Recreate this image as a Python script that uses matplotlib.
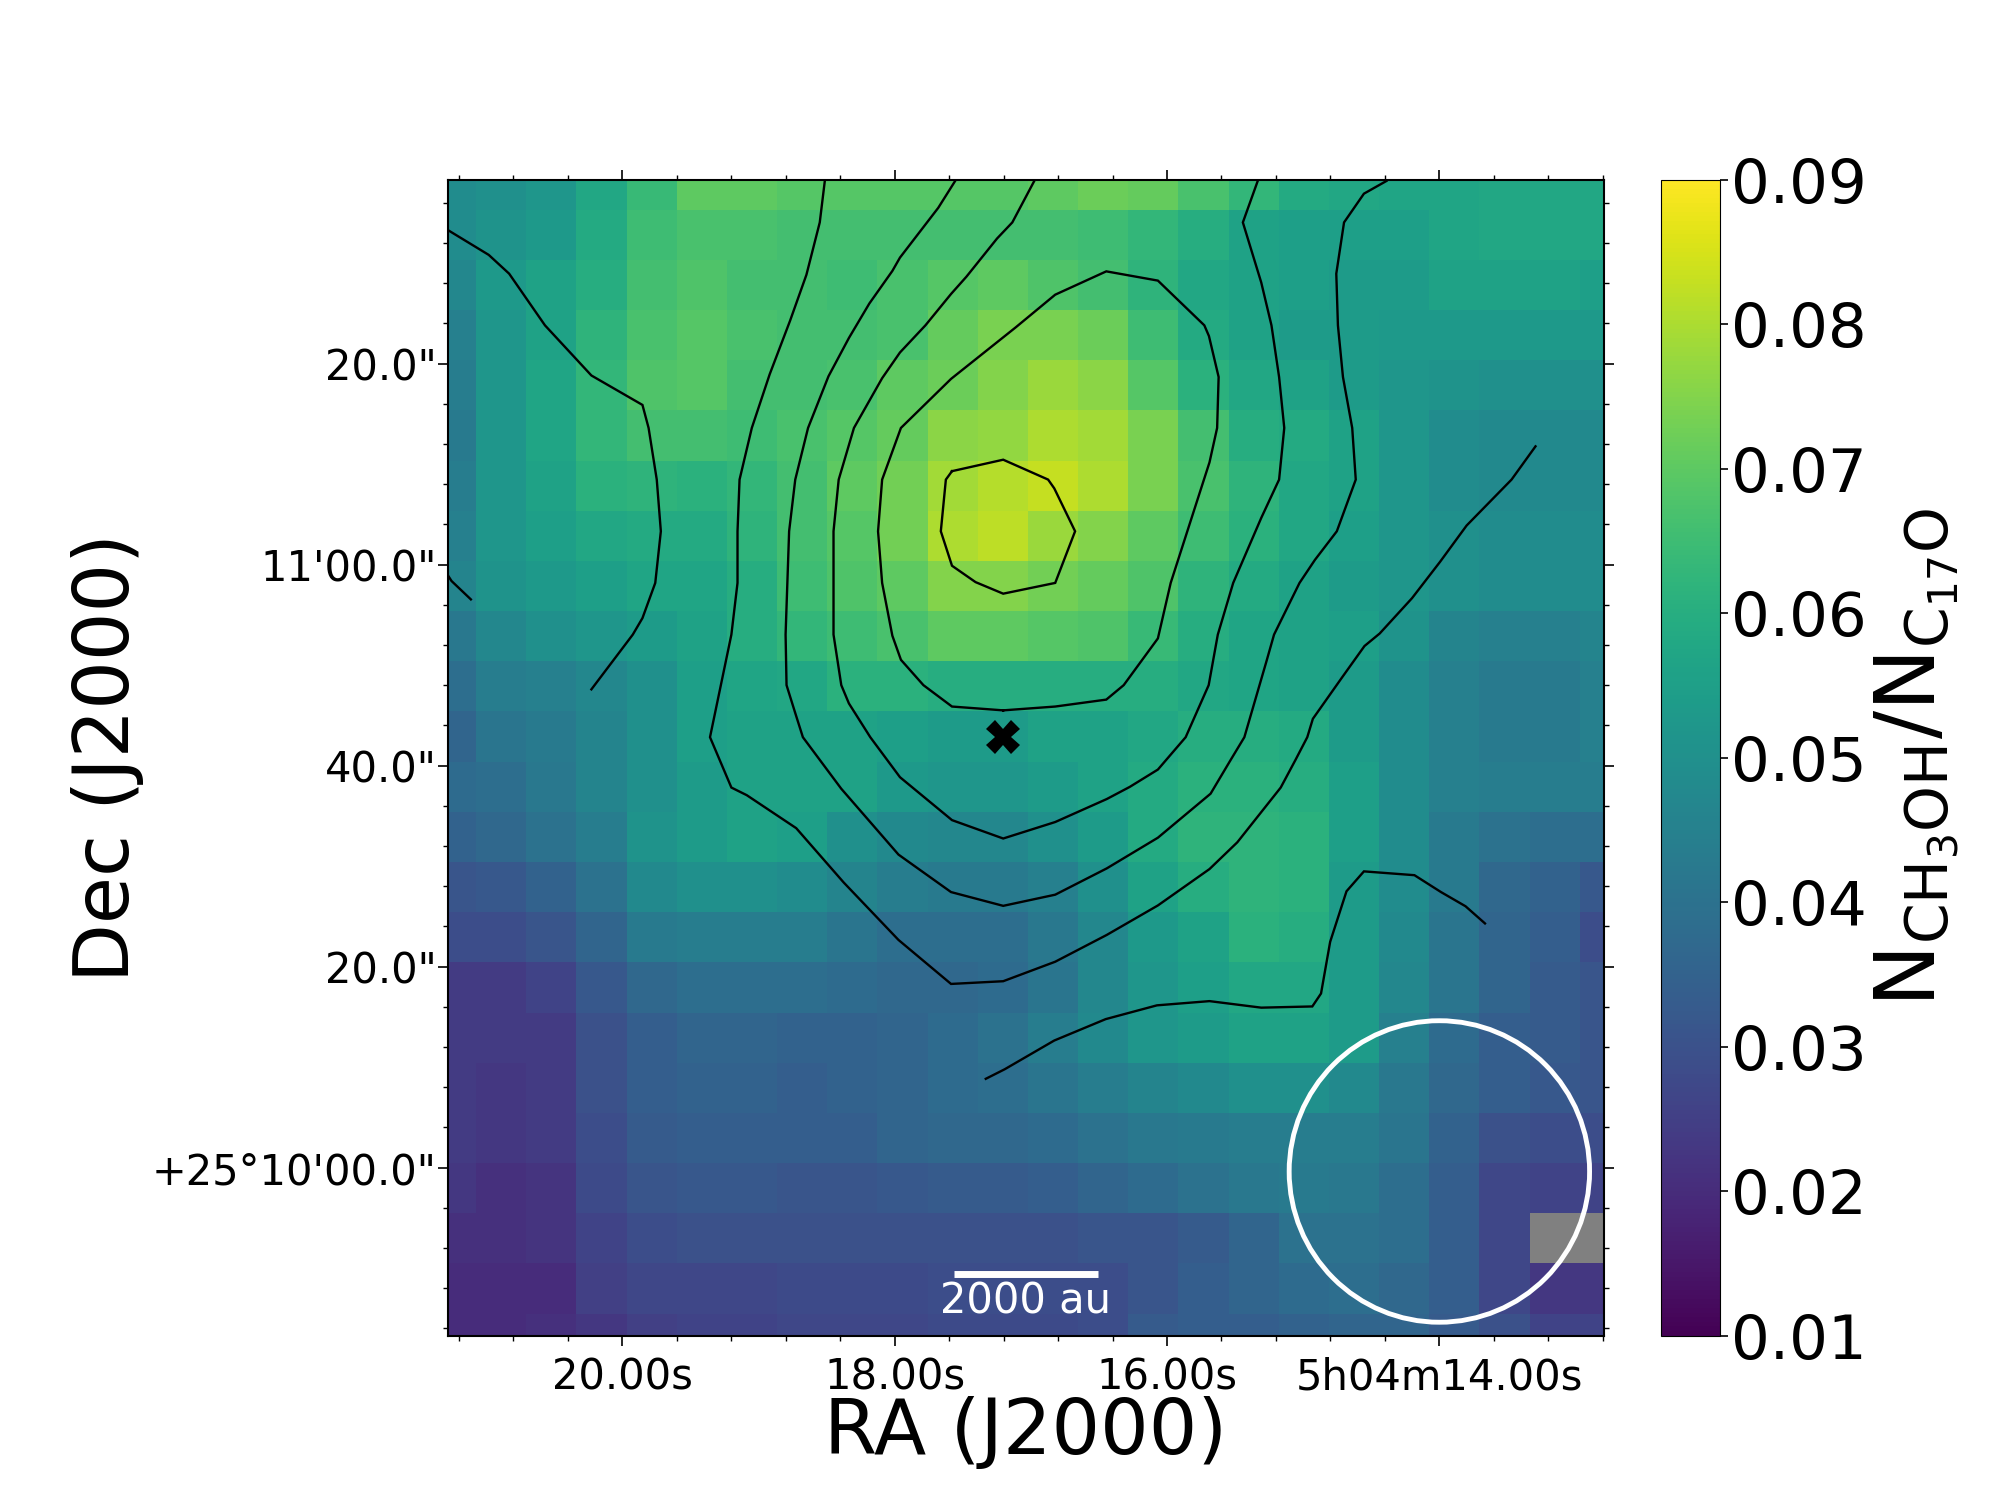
import numpy as np
import matplotlib
matplotlib.use('Agg')
import matplotlib.pyplot as plt
from matplotlib.patches import Ellipse
from matplotlib.ticker import FixedLocator, FormatStrFormatter

# ratio map, top row first, left column first
ratio_map = np.array([
    [.049,.050,.052,.058,.064,.070,.070,.069,.069,.069,.069,.069,.070,.072,.071,.067,.063,.059,.058,.057,.057,.058,.058,.058],
    [.049,.051,.053,.059,.065,.067,.067,.066,.066,.066,.066,.066,.066,.065,.063,.060,.056,.055,.055,.055,.057,.058,.058,.058],
    [.047,.053,.056,.060,.066,.068,.066,.066,.065,.067,.069,.070,.068,.066,.062,.058,.056,.055,.054,.054,.056,.056,.056,.055],
    [.045,.052,.056,.062,.067,.069,.067,.066,.066,.067,.071,.074,.074,.072,.065,.059,.056,.054,.054,.053,.053,.053,.053,.053],
    [.044,.052,.057,.063,.068,.069,.066,.066,.067,.070,.072,.075,.078,.076,.069,.061,.058,.056,.054,.052,.051,.050,.050,.050],
    [.043,.052,.057,.063,.066,.066,.065,.067,.069,.071,.076,.077,.080,.079,.074,.066,.060,.059,.056,.052,.049,.048,.048,.048],
    [.044,.052,.056,.061,.062,.061,.063,.066,.070,.073,.079,.081,.083,.080,.074,.067,.062,.058,.056,.052,.049,.048,.048,.048],
    [.045,.052,.055,.058,.059,.059,.062,.066,.069,.073,.080,.082,.078,.075,.070,.065,.061,.058,.055,.052,.050,.049,.049,.049],
    [.046,.051,.053,.055,.057,.057,.060,.065,.068,.070,.075,.075,.073,.071,.068,.062,.059,.056,.054,.052,.050,.049,.049,.049],
    [.042,.047,.050,.052,.054,.056,.060,.063,.065,.067,.070,.070,.069,.068,.064,.060,.057,.056,.055,.051,.046,.045,.045,.046],
    [.039,.044,.045,.047,.050,.055,.057,.058,.061,.061,.060,.060,.060,.060,.060,.058,.057,.056,.054,.049,.045,.043,.043,.045],
    [.036,.041,.043,.046,.050,.055,.056,.056,.056,.055,.054,.054,.056,.056,.058,.060,.060,.059,.054,.049,.045,.043,.043,.045],
    [.038,.039,.042,.046,.050,.054,.056,.056,.056,.053,.052,.052,.054,.056,.059,.061,.061,.060,.055,.049,.045,.044,.044,.044],
    [.035,.037,.040,.044,.051,.054,.056,.055,.050,.048,.047,.047,.050,.054,.059,.062,.062,.061,.055,.049,.043,.040,.039,.039],
    [.031,.032,.035,.040,.048,.050,.050,.049,.046,.044,.043,.043,.045,.050,.056,.060,.062,.061,.054,.049,.043,.037,.035,.032],
    [.029,.029,.031,.036,.043,.044,.044,.044,.041,.039,.039,.039,.042,.047,.053,.056,.061,.060,.054,.048,.041,.036,.034,.029],
    [.024,.024,.026,.032,.037,.039,.039,.039,.038,.037,.037,.038,.041,.047,.052,.055,.058,.058,.054,.047,.041,.036,.033,.031],
    [.024,.024,.024,.030,.034,.036,.036,.035,.035,.036,.038,.040,.044,.048,.052,.054,.056,.056,.054,.045,.038,.034,.033,.031],
    [.024,.023,.024,.030,.034,.035,.035,.034,.035,.036,.038,.039,.041,.044,.046,.048,.050,.050,.048,.042,.037,.034,.032,.031],
    [.024,.023,.024,.029,.033,.034,.034,.034,.034,.036,.037,.037,.038,.040,.042,.043,.044,.044,.044,.041,.035,.030,.029,.029],
    [.023,.021,.022,.028,.031,.032,.032,.031,.031,.032,.033,.033,.034,.036,.038,.040,.042,.043,.042,.039,.034,.027,.026,.026],
    [.021,.021,.022,.026,.029,.030,.030,.030,.030,.030,.030,.030,.030,.031,.031,.033,.036,.040,.040,.039,.034,.027,np.nan,np.nan],
    [.020,.020,.020,.025,.027,.027,.027,.028,.028,.028,.029,.029,.029,.029,.031,.034,.036,.038,.039,.037,.034,.027,.023,.023],
    [.020,.020,.021,.023,.025,.026,.026,.027,.027,.027,.028,.028,.028,.029,.033,.034,.034,.035,.036,.036,.033,.030,.026,.026],
])

# contour traces, RA seconds past 5h04m and Dec arcsec past +25d10m
c0_ra = [21.281,20.981,20.831,20.568,20.227,19.852,19.807,19.747,19.717,19.758,19.852,19.923,20.227]
c0_dec = [93.29,90.82,88.95,83.81,78.82,75.89,73.60,68.46,63.32,58.18,54.68,53.04,47.59]
c1_ra = [21.281,21.254,21.112]
c1_dec = [58.94,58.37,56.54]
c2_ra = [17.579,17.203,16.873,16.828,16.675,16.821,17.203,17.406,17.579,17.661,17.624,17.579]
c2_dec = [69.30,70.44,68.46,67.59,63.32,58.18,57.11,58.26,59.89,63.32,68.46,69.30]
c3_ra = [17.203,17.579,17.789,17.954,18.017,18.092,18.122,18.092,17.954,17.586,17.110,16.821,16.446,16.067,15.726,15.692,15.621,15.632,15.688,15.973,16.067,16.318,16.446,16.821,17.203]
c3_dec = [45.50,45.88,48.01,50.53,52.93,58.18,63.32,68.46,73.60,78.48,83.62,86.86,89.18,88.26,83.81,82.74,78.67,73.60,70.18,58.18,52.66,48.01,46.57,45.88,45.50]
c4_ra = [16.975,17.136,17.248,17.473,17.586,17.774,17.961,18.092,18.299,18.411,18.449,18.449,18.392,18.336,18.179,17.961,17.579,17.203,16.821,16.442,16.273,16.067,15.863,15.694,15.627,15.514,15.308,15.177,15.139,15.177,15.233,15.308,15.443,15.334]
c4_dec = [98.17,94.05,92.45,88.65,86.93,83.81,81.11,78.55,73.60,68.46,63.32,53.04,48.01,46.19,42.83,38.85,34.58,32.75,34.39,36.68,37.89,39.61,42.83,48.01,53.04,58.18,64.65,68.46,73.60,78.67,83.81,88.07,94.05,98.17]
c5_ra = [17.556,17.680,17.961,18.017,18.186,18.336,18.486,18.636,18.730,18.775,18.801,18.794,18.730,18.674,18.392,17.972,17.586,17.203,16.821,16.442,16.067,15.680,15.533,15.432,15.270,15.214,15.027,14.914,14.753,14.614,14.640,14.708,14.745,14.757,14.700,14.554,14.389]
c5_dec = [98.17,95.50,90.55,89.22,85.98,82.55,78.74,73.60,68.46,63.32,53.04,48.01,45.23,42.83,37.70,31.15,27.42,26.05,27.16,29.78,32.83,37.21,40.56,42.83,50.37,53.04,58.18,60.47,63.32,68.46,73.60,78.67,83.81,88.95,94.05,96.91,98.17]
c6_ra = [18.513,18.550,18.648,18.768,18.918,19.049,19.139,19.154,19.154,19.199,19.356,19.199,19.086,18.723,18.374,17.972,17.586,17.203,16.821,16.442,16.067,15.688,15.484,15.165,15.057,14.970,14.929,14.715,14.550,14.438,14.201,13.995,13.800,13.470,13.294]
c6_dec = [98.17,94.05,88.84,84.27,78.93,73.60,68.46,63.32,58.18,53.04,42.83,37.82,37.06,33.78,28.37,22.66,18.28,18.55,20.49,23.16,26.09,29.71,32.37,37.82,40.56,42.83,44.66,48.77,51.90,53.15,56.66,60.28,63.89,68.46,71.77]
c7_ra = [17.331,17.192,16.828,16.450,16.074,15.688,15.308,14.933,14.869,14.802,14.682,14.554,14.183,13.988,13.808,13.665]
c7_dec = [8.84,9.79,12.65,14.78,16.15,16.57,15.92,16.04,17.33,22.47,27.50,29.48,29.10,27.42,26.01,24.30]
contours = [(c0_ra, c0_dec), (c1_ra, c1_dec), (c2_ra, c2_dec), (c3_ra, c3_dec),
            (c4_ra, c4_dec), (c5_ra, c5_dec), (c6_ra, c6_dec), (c7_ra, c7_dec)]

ra_ticks = [20, 18, 16, 14]
ra_labels = ['20.00s', '18.00s', '16.00s', '5h04m14.00s']
ra_minor = [21.2, 20.8, 20.4, 19.6, 19.2, 18.8, 18.4, 17.6, 17.2, 16.8, 16.4, 15.6, 15.2, 14.8, 14.4, 13.6, 13.2, 12.8]
dec_ticks = [0, 20, 40, 60, 80]
dec_labels = ['+25°10\'00.0"', '20.0"', '40.0"', '11\'00.0"', '20.0"']
dec_minor = [v for v in range(-16, 100, 4) if v % 20 != 0]
cbar_ticks = [0.01, 0.02, 0.03, 0.04, 0.05, 0.06, 0.07, 0.08, 0.09]

source_ra, source_dec = 17.203, 42.83
beam_ra, beam_dec = 14.0, -0.38
beam_w, beam_h = 2.206, 30.0
bar_ra = [17.564, 16.506]
bar_dec = [-10.62, -10.62]

plt.rcParams['font.family'] = ['DejaVu Sans']
plt.rcParams['mathtext.default'] = 'regular'

fig = plt.figure(figsize=(20, 15), dpi=100)
ax = fig.add_axes([448 / 2000, 1 - 1335.5 / 1500, 1155.6 / 2000, 1155.5 / 1500])

cmap = plt.get_cmap('viridis').copy()
cmap.set_bad('#808080')
im = ax.imshow(ratio_map, cmap=cmap, vmin=0.01, vmax=0.09, origin='upper', aspect='auto',
               interpolation='nearest', extent=[21.4418, 12.6026, -19.57, 100.2])
ax.set_xlim(21.280, 12.794)
ax.set_ylim(-16.7, 98.27)

for ra, dec in contours:
    ax.plot(ra, dec, color='black', lw=1.7, solid_joinstyle='miter')

ax.plot(source_ra, source_dec, marker='X', color='black', ms=24, mew=0)
ax.add_patch(Ellipse((beam_ra, beam_dec), beam_w, beam_h, fill=False, edgecolor='white', lw=3.5))
ax.plot(bar_ra, bar_dec, color='white', lw=5, solid_capstyle='butt')
ax.text(17.04, -13.3, '2000 au', color='white', fontsize=30, ha='center', va='center')

ax.set_xticks(ra_ticks)
ax.set_xticklabels(ra_labels)
ax.xaxis.set_minor_locator(FixedLocator(ra_minor))
ax.set_yticks(dec_ticks)
ax.set_yticklabels(dec_labels)
ax.yaxis.set_minor_locator(FixedLocator(dec_minor))
ax.tick_params(which='major', direction='out', length=7, width=1.2, labelsize=30,
               top=True, right=True)
ax.tick_params(axis='x', which='major', pad=8)
ax.tick_params(axis='y', which='major', pad=1)
ax.tick_params(which='minor', direction='out', length=3.5, width=1, top=True, right=True)
for s in ax.spines.values():
    s.set_linewidth(1.5)

ax.set_xlabel('RA (J2000)', fontsize=55, labelpad=-2)
ax.set_ylabel('Dec (J2000)', fontsize=55, labelpad=5)

cax = fig.add_axes([1660.7 / 2000, 1 - 1335.5 / 1500, 59.7 / 2000, 1155.5 / 1500])
cb = fig.colorbar(im, cax=cax)
cb.set_ticks(cbar_ticks)
cb.ax.tick_params(labelsize=44, length=6, width=1.2, pad=1.5)
cb.ax.yaxis.set_major_formatter(FormatStrFormatter('%.2f'))
cb.set_label(r'$N_{CH_3OH}/N_{C_{17}O}$', fontsize=60, labelpad=4)

fig.savefig('out.png', dpi=100)
